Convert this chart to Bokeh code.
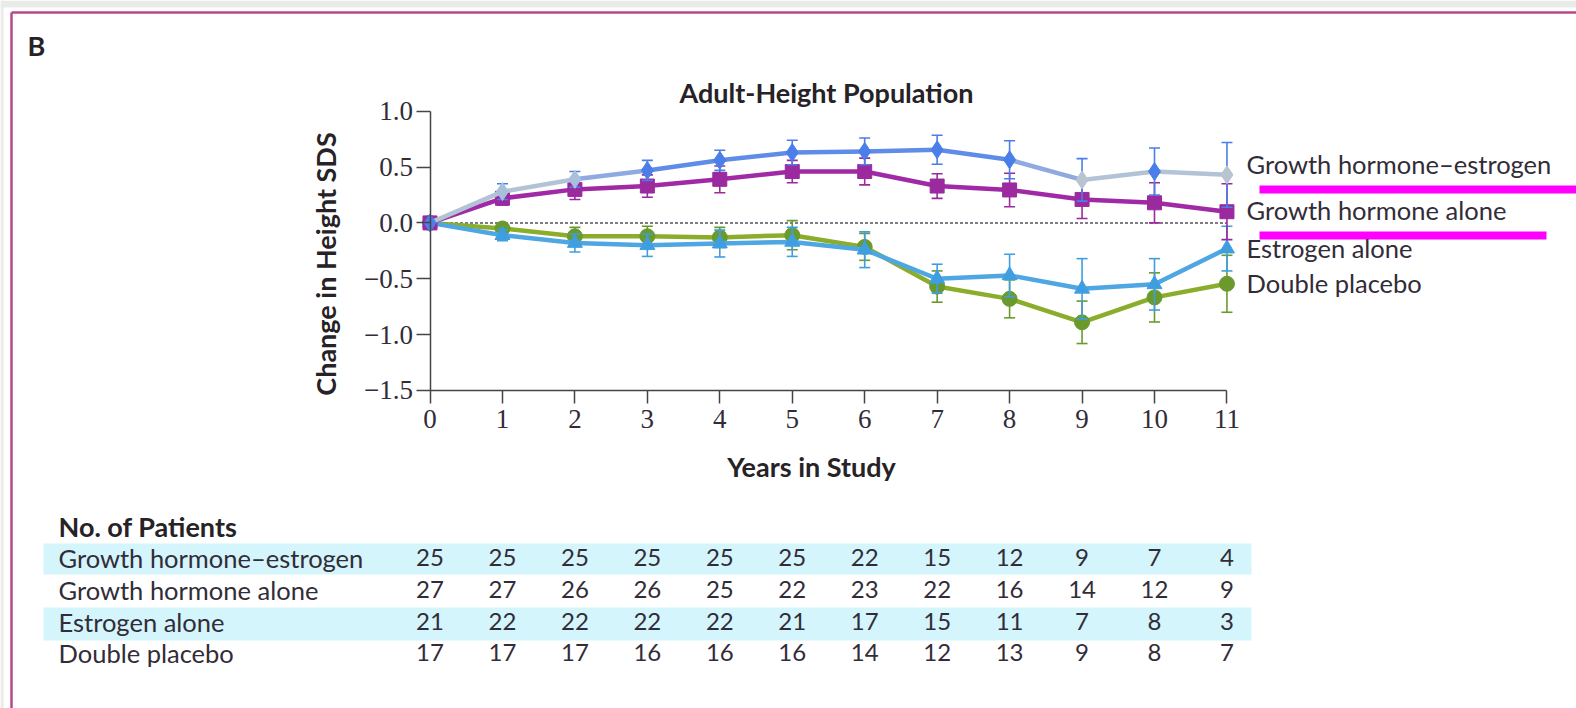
import math
from bokeh.plotting import figure
from bokeh.models import FixedTicker, Range1d, LinearAxis
from bokeh.core.properties import value
from bokeh.embed import file_html
from bokeh.resources import INLINE

# ---------------- data ----------------
years = [0, 1, 2, 3, 4, 5, 6, 7, 8, 9, 10, 11]

ghe_mean = [0, 0.28, 0.39, 0.47, 0.56, 0.63, 0.64, 0.655, 0.565, 0.385, 0.46, 0.43]
ghe_err = [0, 0.07, 0.07, 0.09, 0.09, 0.11, 0.12, 0.13, 0.17, 0.19, 0.21, 0.29]

gha_mean = [0, 0.22, 0.30, 0.33, 0.39, 0.46, 0.46, 0.33, 0.295, 0.21, 0.18, 0.10]
gha_err = [0, 0.06, 0.09, 0.10, 0.12, 0.10, 0.12, 0.11, 0.15, 0.17, 0.18, 0.25]

est_mean = [0, -0.11, -0.18, -0.20, -0.185, -0.17, -0.24, -0.50, -0.47, -0.59, -0.55, -0.23]
est_err = [0, 0.05, 0.08, 0.10, 0.12, 0.13, 0.16, 0.13, 0.19, 0.27, 0.23, 0.20]

plc_mean = [0, -0.05, -0.12, -0.12, -0.13, -0.11, -0.215, -0.57, -0.68, -0.89, -0.667, -0.545]
plc_err = [0, 0.05, 0.08, 0.09, 0.09, 0.13, 0.12, 0.14, 0.17, 0.19, 0.22, 0.255]

series_names = ["Growth hormone\u2013estrogen", "Growth hormone alone",
                "Estrogen alone", "Double placebo"]

n_ghe = [25, 25, 25, 25, 25, 25, 22, 15, 12, 9, 7, 4]
n_gha = [27, 27, 26, 26, 25, 22, 23, 22, 16, 14, 12, 9]
n_est = [21, 22, 22, 22, 22, 21, 17, 15, 11, 7, 8, 3]
n_plc = [17, 17, 17, 16, 16, 16, 14, 12, 13, 9, 8, 7]

y_ticks = [1.0, 0.5, 0.0, -0.5, -1.0, -1.5]
y_tick_labels = ["1.0", "0.5", "0.0", "\u22120.5", "\u22121.0", "\u22121.5"]

title_text = "Adult-Height Population"
x_label = "Years in Study"
y_label = "Change in Height SDS"
panel_letter = "B"
table_title = "No. of Patients"

# ---------------- geometry (canvas pixels -> data) ----------------
W, H = 1576, 708
PX0, PPX = 429.5, 72.45      # x=0 position, pixels per year
PY0, PPY = 110.7, 111.7      # y=1.0 position, pixels per unit


def dx(px):
    return (px - PX0) / PPX


def dy(py):
    return 1.0 - (py - PY0) / PPY


p = figure(width=W, height=H, output_backend="svg", toolbar_location=None,
           x_range=Range1d(dx(0), dx(W)), y_range=Range1d(dy(H), dy(0)),
           x_axis_location=None, y_axis_location=None,
           min_border=0, min_border_left=0, min_border_right=0,
           min_border_top=0, min_border_bottom=0)
p.outline_line_color = None
p.xgrid.visible = False
p.ygrid.visible = False
p.background_fill_color = "white"
p.border_fill_color = "white"

TEXT = "#322c38"
BOLD = "#262226"
SANS = "Lato"
SERIF = "Liberation Serif"
AX = "#47434a"

# ---------------- decorations ----------------
p.quad(left=[dx(0)], right=[dx(W)], top=[dy(0)], bottom=[dy(7)],
       fill_color="#e9ebe9", line_color=None)
p.quad(left=[dx(0)], right=[dx(3)], top=[dy(0)], bottom=[dy(H)],
       fill_color="#e9ebe9", line_color=None)
p.segment(x0=[dx(11), dx(11)], y0=[dy(12), dy(12)], x1=[dx(W), dx(11)], y1=[dy(12), dy(H)],
          line_color="#b8468a", line_width=2.5)

# table stripes
p.quad(left=[dx(43), dx(43)], right=[dx(1251), dx(1251)],
       top=[dy(543), dy(607)], bottom=[dy(574), dy(640)],
       fill_color="#d4f5fb", line_color=None)

# magenta highlight marks next to the labels
p.quad(left=[dx(1259), dx(1259)], right=[dx(W), dx(1546)],
       top=[dy(185), dy(231)], bottom=[dy(193), dy(239)],
       fill_color="#ff00ff", line_color=None)

# ---------------- axes ----------------
xaxis = LinearAxis(fixed_location=-1.5, bounds=(0, 11), ticker=FixedTicker(ticks=years))
yaxis = LinearAxis(fixed_location=0, bounds=(-1.5, 1.0), ticker=FixedTicker(ticks=y_ticks))
yaxis.major_label_overrides = dict(zip(y_ticks, y_tick_labels))
for ax, tout, so in [(xaxis, 13, 7), (yaxis, 14, 3)]:
    ax.minor_tick_line_color = None
    ax.major_tick_in = 0
    ax.major_tick_out = tout
    ax.axis_line_color = AX
    ax.axis_line_width = 1.5
    ax.major_tick_line_color = AX
    ax.major_tick_line_width = 1.5
    ax.major_label_text_font = SERIF
    ax.major_label_text_font_size = "27px"
    ax.major_label_text_color = TEXT
    ax.major_label_standoff = so
p.add_layout(xaxis, "below")
p.add_layout(yaxis, "left")

# zero reference line
p.line([years[0], years[-1]], [0, 0], line_color="#555060", line_width=1.5, line_dash="3 2")

# ---------------- series ----------------
BLUE, PALE = "#5f8ce9", "#b3c3d6"
series = [
    (plc_mean, plc_err, "#8aae2c", "#6a9a2e", "circle", 15, None, None),
    (est_mean, est_err, "#4ea6e2", "#3f9ee0", "triangle", 15, None, None),
    (gha_mean, gha_err, "#a02aa6", "#9a2a9e", "square", 14, None, None),
    (ghe_mean, ghe_err, BLUE, "#4a7ee8", "diamond", 18,
     [PALE, PALE, "#8eaae0", BLUE, BLUE, BLUE, BLUE, BLUE, "#8eaae0", PALE, PALE],
     ["#4a7ee8", "#a9bfdc", "#a9bfdc", "#4a7ee8", "#4a7ee8", "#4a7ee8", "#4a7ee8",
      "#4a7ee8", "#4a7ee8", "#b8c4d0", "#4a7ee8", "#b8c4d0"]),
]
for mean, err, lc, mc, mk, ms, seg_cols, pt_cols in series:
    if seg_cols is None:
        p.line(years, mean, line_color=lc, line_width=4.5)
    else:
        p.segment(years[:-1], mean[:-1], years[1:], mean[1:], line_color=seg_cols,
                  line_width=4.5, line_cap="round")
    lo = [m - e for m, e in zip(mean, err)]
    hi = [m + e for m, e in zip(mean, err)]
    p.segment(years[1:], lo[1:], years[1:], hi[1:], line_color=mc, line_width=1.6)
    p.scatter(years[1:], lo[1:], marker="dash", size=11, line_color=mc, line_width=1.6)
    p.scatter(years[1:], hi[1:], marker="dash", size=11, line_color=mc, line_width=1.6)
    cols = pt_cols if pt_cols is not None else mc
    p.scatter(years, mean, marker=mk, size=ms, fill_color=cols, line_color=cols)


# ---------------- texts ----------------
def txt(xs, ys, texts, size="25.5px", bold=False, align="left", angle=0.0, color=TEXT, font=SANS):
    p.text(x=xs, y=ys, text=texts, text_font=value(font), text_font_size=value(size),
           text_font_style="bold" if bold else "normal", text_align=align,
           text_baseline="alphabetic", angle=angle, text_color=color)


BSIZE = "27px"
txt([dx(27)], [dy(45)], [panel_letter], size=BSIZE, bold=True, color=BOLD)
txt([dx(826)], [dy(91.5)], [title_text], size=BSIZE, bold=True, align="center", color=BOLD)
txt([dx(325)], [dy(263.5)], [y_label], size=BSIZE, bold=True, align="center",
    angle=math.pi / 2, color=BOLD)
txt([dx(811)], [dy(466)], [x_label], size=BSIZE, bold=True, align="center", color=BOLD)

legend_y = [163.5, 209, 247, 282]
txt([dx(1246)] * 4, [dy(b) for b in legend_y], series_names)

txt([dx(58)], [dy(526)], [table_title], size=BSIZE, bold=True, color=BOLD)
rows = [n_ghe, n_gha, n_est, n_plc]
row_y = [557, 589, 621, 652]
txt([dx(58)] * 4, [dy(b) for b in row_y], series_names)
for counts, b in zip(rows, row_y):
    txt(years, [dy(b)] * len(years), [str(c) for c in counts], size="24px", align="center")

open("out.html", "w").write(file_html(p, INLINE))
